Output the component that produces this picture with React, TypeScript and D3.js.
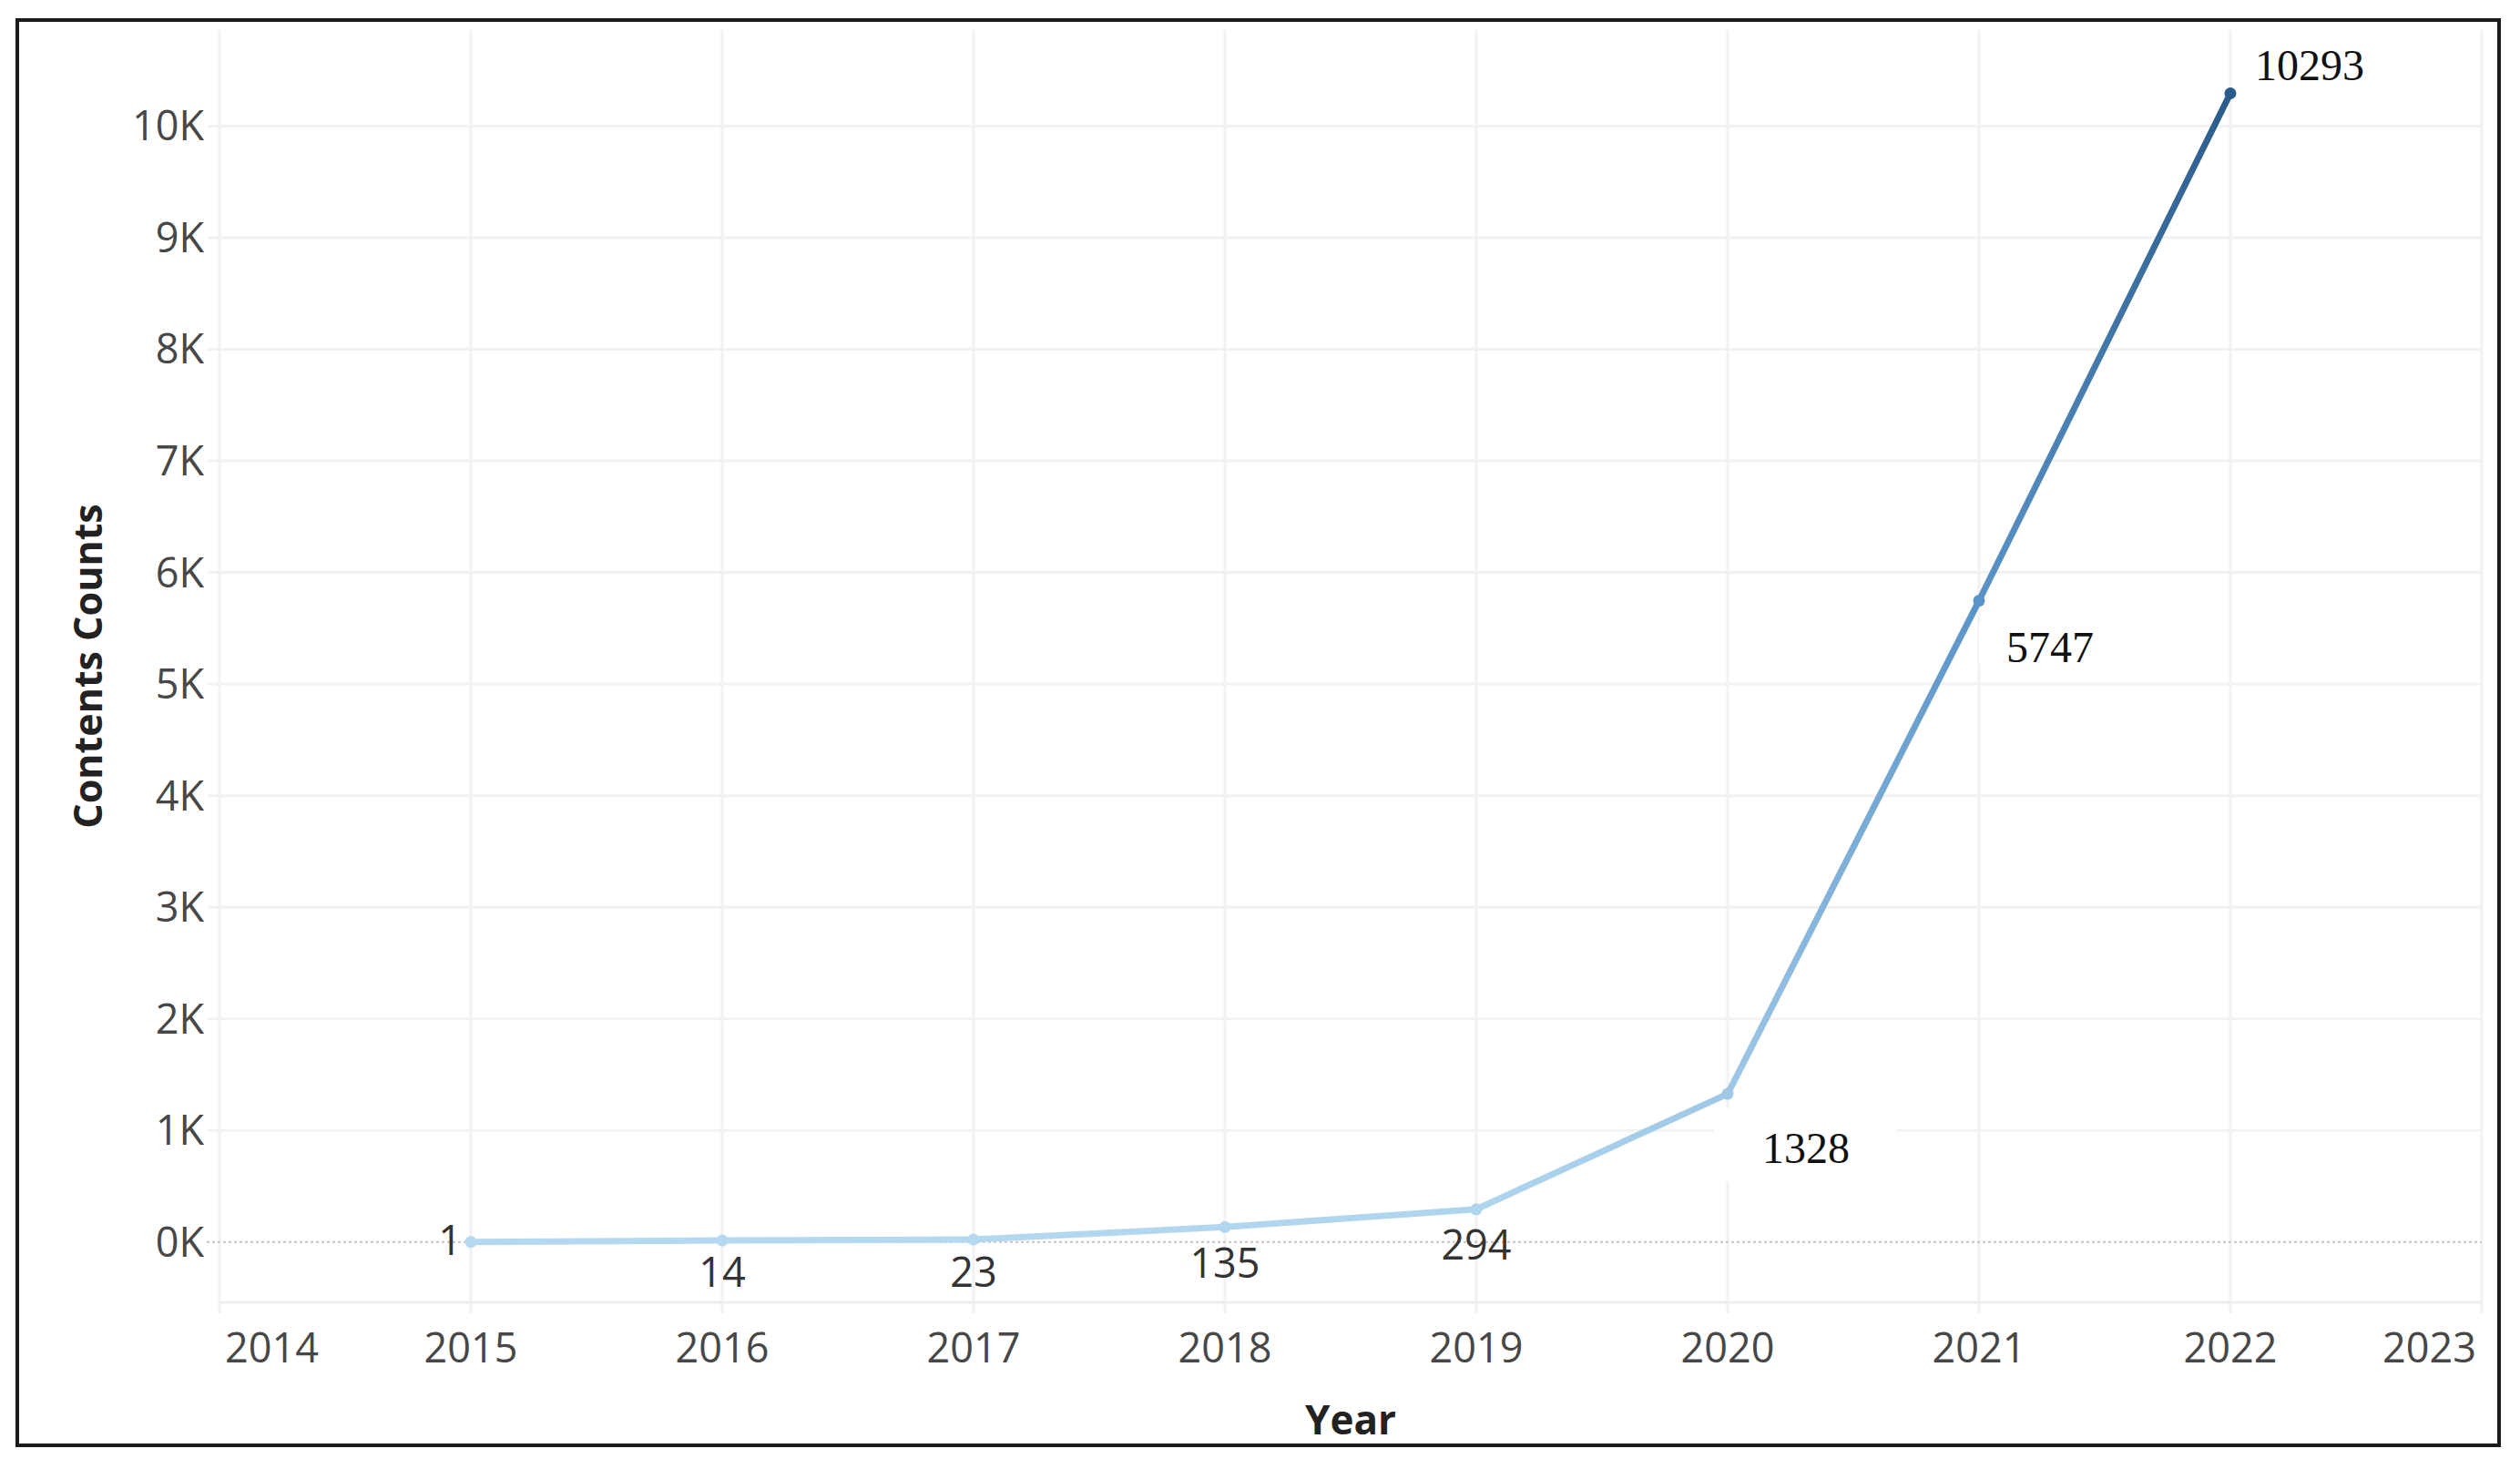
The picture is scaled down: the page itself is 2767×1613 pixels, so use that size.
import React from "react";
import * as d3 from "d3";

// ---- data ----
const years = [2015, 2016, 2017, 2018, 2019, 2020, 2021, 2022];
const counts = [1, 14, 23, 135, 294, 1328, 5747, 10293];
const xTickYears = [2014, 2015, 2016, 2017, 2018, 2019, 2020, 2021, 2022, 2023];
const yTickValues = [0, 1000, 2000, 3000, 4000, 5000, 6000, 7000, 8000, 9000, 10000];
const xTitle = "Year";
const yTitle = "Contents Counts";

// ---- layout / style (not data) ----
const W = 2767;
const H = 1613;
const plot = { left: 241, right: 2725, top: 33, bottom: 1430 };
const sans = "'Open Sans', 'Noto Sans', sans-serif";
const serif = "'Liberation Serif', 'DejaVu Serif', serif";
// label placement relative to its point: [dx, dy, anchor, font]
const labelPlacement: [number, number, string, string][] = [
  [-10, 14, "end", "sans"],
  [0, 51, "middle", "sans"],
  [0, 52, "middle", "sans"],
  [0, 56, "middle", "sans"],
  [0, 55, "middle", "sans"],
  [38, 76, "start", "serif"],
  [30, 67, "start", "serif"],
  [27, -14, "start", "serif"],
];
// white box behind a label, relative to label anchor: [dx, dy, w, h]
const labelBox: ([number, number, number, number] | null)[] = [
  null,
  null,
  null,
  null,
  null,
  [-53, -60, 201, 80],
  [-30, -44, 150, 47],
  null,
];
const colorStops = ["#b4d8f0", "#5b95c8", "#2b5b8b"];

export default function App() {
  const x = d3.scaleLinear().domain([2014, 2023]).range([plot.left, plot.right]);
  const y = d3.scaleLinear().domain([-540, 10860]).range([plot.bottom, plot.top]);
  const maxV = d3.max(counts) as number;
  const color = d3
    .scaleLinear<string>()
    .domain([0, maxV * 0.55, maxV])
    .range(colorStops)
    .interpolate(d3.interpolateRgb);

  const pts = years.map((yr, i) => ({ yr, v: counts[i], px: x(yr), py: y(counts[i]) }));

  return (
    <svg
      width={W}
      height={H}
      viewBox={`0 0 ${W} ${H}`}
      style={{ position: "absolute", left: 0, top: 0, background: "#fff" }}
    >
      <defs>
        {pts.slice(1).map((p, i) => {
          const a = pts[i];
          return (
            <linearGradient
              key={i}
              id={`seg${i}`}
              gradientUnits="userSpaceOnUse"
              x1={a.px}
              y1={a.py}
              x2={p.px}
              y2={p.py}
            >
              <stop offset="0%" stopColor={color(a.v)} />
              <stop offset="100%" stopColor={color(p.v)} />
            </linearGradient>
          );
        })}
      </defs>
      <rect x={0} y={0} width={W} height={H} fill="#fff" />

      {/* vertical gridlines */}
      {xTickYears.map((yr) => (
        <line
          key={"vg" + yr}
          x1={x(yr)}
          x2={x(yr)}
          y1={plot.top}
          y2={plot.bottom + 12}
          stroke="#f2f2f2"
          strokeWidth={3}
        />
      ))}
      {/* horizontal gridlines */}
      {yTickValues
        .filter((v) => v !== 0)
        .map((v) => (
          <line
            key={"hg" + v}
            x1={plot.left - 13}
            x2={plot.right}
            y1={y(v)}
            y2={y(v)}
            stroke="#f2f2f2"
            strokeWidth={3}
          />
        ))}
      {/* plot bottom line */}
      <line
        x1={plot.left}
        x2={plot.right}
        y1={plot.bottom}
        y2={plot.bottom}
        stroke="#eeeeee"
        strokeWidth={3}
      />
      {/* zero line */}
      <line
        x1={plot.left - 14}
        x2={plot.right}
        y1={y(0)}
        y2={y(0)}
        stroke="#c4c4c4"
        strokeWidth={2}
        strokeDasharray="3,3"
      />

      {/* label background boxes */}
      {pts.map((p, i) => {
        const [dx, dy] = labelPlacement[i];
        const box = labelBox[i];
        if (!box) return null;
        return (
          <rect
            key={"bg" + i}
            x={p.px + dx + box[0]}
            y={p.py + dy + box[1]}
            width={box[2]}
            height={box[3]}
            fill="#fff"
          />
        );
      })}

      {/* line segments */}
      {pts.slice(1).map((p, i) => {
        const a = pts[i];
        return (
          <line
            key={"seg" + i}
            x1={a.px}
            y1={a.py}
            x2={p.px}
            y2={p.py}
            stroke={`url(#seg${i})`}
            strokeWidth={7}
            strokeLinecap="round"
          />
        );
      })}
      {pts.map((p, i) => (
        <circle key={"pt" + i} cx={p.px} cy={p.py} r={6.5} fill={color(p.v)} />
      ))}

      {/* value labels */}
      {pts.map((p, i) => {
        const [dx, dy, anchor, font] = labelPlacement[i];
        const isSerif = font === "serif";
        return (
          <text
            key={"lbl" + i}
            x={p.px + dx}
            y={p.py + dy}
            textAnchor={anchor as any}
            fontFamily={isSerif ? serif : sans}
            fontSize={isSerif ? 48 : 45}
            fill={isSerif ? "#111" : "#333"}
          >
            {String(p.v)}
          </text>
        );
      })}

      {/* y axis labels */}
      {yTickValues.map((v) => (
        <text
          key={"yl" + v}
          x={224}
          y={y(v) + 16}
          textAnchor="end"
          fontFamily={sans}
          fontSize={45}
          fill="#474747"
        >
          {`${v / 1000}K`}
        </text>
      ))}

      {/* x axis labels */}
      {xTickYears.map((yr, i) => {
        const first = i === 0;
        const last = i === xTickYears.length - 1;
        return (
          <text
            key={"xl" + yr}
            x={first ? x(yr) + 6 : last ? x(yr) - 6 : x(yr)}
            y={1496}
            textAnchor={first ? "start" : last ? "end" : "middle"}
            fontFamily={sans}
            fontSize={45}
            fill="#474747"
          >
            {yr}
          </text>
        );
      })}

      {/* axis titles */}
      <text
        x={(plot.left + plot.right) / 2}
        y={1575}
        textAnchor="middle"
        fontFamily={sans}
        fontWeight="bold"
        fontSize={44}
        fill="#222"
      >
        {xTitle}
      </text>
      <text
        transform={`translate(112, ${(plot.top + plot.bottom) / 2}) rotate(-90)`}
        textAnchor="middle"
        fontFamily={sans}
        fontWeight="bold"
        fontSize={43}
        fill="#222"
      >
        {yTitle}
      </text>

      {/* outer frame */}
      <rect
        x={19}
        y={22}
        width={2725}
        height={1565}
        fill="none"
        stroke="#1c1c1c"
        strokeWidth={4}
      />
    </svg>
  );
}
